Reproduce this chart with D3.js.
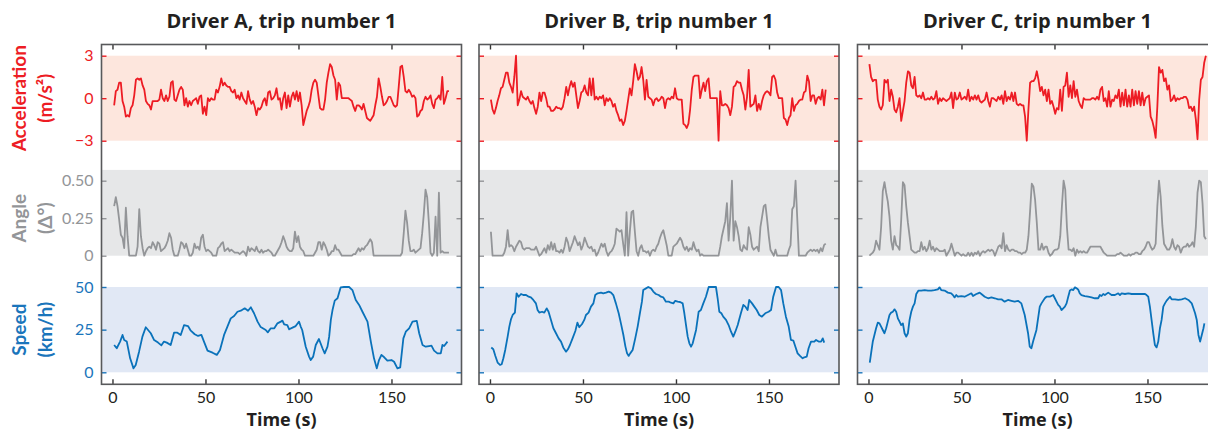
<!DOCTYPE html>
<html>
<head>
<meta charset="utf-8">
<script src="https://cdn.jsdelivr.net/npm/d3@7"></script>
<style>
  body { margin: 0; background: #fff; }
  svg { display: block; font-family: Lato, "Open Sans", sans-serif; }
</style>
</head>
<body>
<svg id="svg"></svg>
<script>
/**
 * CONSTANTS AND GLOBALS
 * */
const width = 1208,
  height = 432;

const drivers = ["A", "B", "C"];
const titles = ["Driver A, trip number 1", "Driver B, trip number 1", "Driver C, trip number 1"];
const timeTicks = [0, 50, 100, 150];

// acceleration and angle are sampled on a regular grid: t = start + i * step
const sampleStep = 0.9;
const sampleStart = [0.9, 0.5, 0.5];

/**
 * DATA
 * */
const accelA = [
  -0.5,0.5,0.6,1.1,1.1,-0.2,-0.6,-1.3,-1.2,-1.3,
  -0.7,-0.5,0.2,1.3,1.4,1.3,1.4,0.9,0.6,-0.2,
  -0.4,-0.5,-0.8,-0.2,-0.2,-0.2,-0.2,-0.1,0.6,0,
  -0.2,0.2,-0.2,0.1,1.1,1.2,-0.1,-0.2,0.2,0.6,
  0.8,0.6,-0.5,0,-0.6,-0.2,-0.5,-0.2,-0.1,0,
  -0.4,0.1,0.2,-1.1,-0.6,-1.2,0,-0.2,0,-0.1,
  -0.1,0.6,0.4,0.8,1.4,0.9,1.1,0.9,0.8,0.8,
  0.5,0.4,0.6,0,0.2,-0.1,0.4,0,-0.2,-0.4,
  0.5,-0.1,-0.4,-0.2,-0.6,-1.2,-0.7,-0.8,-0.6,-0.2,
  0,-0.5,0.4,0.5,-0.1,0,0.2,0.7,-0.1,0,
  -0.8,0,0.4,-0.7,0.2,-0.6,0.1,0.4,-0.1,0.5,
  -0.2,0.4,-0.5,-1.9,-1.4,-0.9,-0.6,-0.2,0.6,1.1,
  1.3,1.1,0.2,-0.7,-0.8,-0.8,-0.1,1.1,1.8,2.4,
  2.2,1.6,1.3,-0.1,1.1,0.9,0,0,0,0,
  0,-0.1,-0.2,-0.6,-0.9,-0.5,-0.5,-0.6,-0.8,-0.4,
  -0.9,-1.4,-1.5,-1.6,-1.4,-1.2,-0.5,0.1,1.4,0.8,
  0.1,-0.5,-0.4,-0.2,0.1,0.1,-0.2,-0.5,-0.6,-0.5,
  0.8,2.2,2.3,1.5,0.5,0.4,0.6,0.4,0.1,0.2,
  0,-1.3,-1.2,-0.9,-0.8,-0.2,0.1,-0.1,0,0.2,
  -0.4,-0.7,-0.1,0,0.2,-0.1,1.5,-0.4,0,0.5,
  0.5
];
const accelB = [
  -0.1,-0.8,-1.1,-0.7,-0.2,0.2,0.7,0.8,1.3,1.8,
  1.8,1.1,0.8,0.4,1.5,3.0,-0.5,-0.1,0.5,0.1,
  0,-0.1,0.1,-0.2,-0.4,-0.2,-0.7,-1.1,-0.6,0.4,
  -0.2,0.4,0.4,0,-0.6,-0.6,-0.9,-0.9,-0.8,-0.6,
  -0.7,-0.7,-0.8,-0.6,0,0.8,0.2,0.8,1.2,0.8,
  1.1,0.2,-0.7,-0.2,0.4,0.5,0.9,0.4,0.2,1.4,
  0.2,1.4,-0.1,0.1,-0.1,0.1,0,0.2,-0.5,0,
  -0.2,0,-0.2,-0.6,-0.4,-0.9,-1.2,-1.6,-1.5,-1.9,
  -1.6,-0.9,-0.1,0.7,0.2,1.2,2.4,1.9,1.3,1.5,
  2.2,1.3,-0.1,1.3,0.1,0,-0.1,-0.5,-0.1,0,
  -0.2,-0.1,0.1,0,-0.7,-0.1,0,-0.1,0.1,0,
  0.7,0,-0.1,-0.1,-0.1,-1.8,-1.9,-2.1,-1.8,-0.8,
  0.6,1.5,1.6,1.6,1.6,0,0.6,1.1,0.5,1.2,
  1.4,0,0,0,0,0,-3.0,0.5,-0.5,-0.5,
  -0.4,-0.5,-0.7,-1.2,-0.6,0.8,0.9,1.2,1.1,1.1,
  0.6,0.2,-0.8,0.1,2.0,-0.6,-0.5,-0.4,0.2,-0.9,
  -0.4,-0.8,-0.2,0.2,0.4,0.5,0.4,0.2,1.5,1.6,
  1.3,0.4,0,0,0,-1.4,-1.5,-1.9,-1.4,-1.2,
  0,-0.9,-0.5,-0.4,-0.2,-0.1,-0.1,0.4,0.5,1.6,
  1.2,-0.2,0.2,0.2,-0.4,0,0.1,-0.1,0.6,-0.5,
  0.6
];
const accelC = [
  2.4,1.5,1.2,1.3,1.3,-0.1,-0.6,-0.8,-0.5,1.3,
  1.1,1.3,-0.2,0.6,0.1,-0.8,-1.0,-0.6,0,-1.6,
  -0.9,-0.2,1.1,1.9,1.8,0.9,0.7,1.5,0.2,0.1,
  0.2,0,0.4,-0.1,-0.1,0,-0.1,0.1,-0.1,0,
  0.5,-0.4,0,-0.2,0,-0.1,-0.2,-0.1,0,0.4,
  -0.7,0.4,-0.1,0,0.4,-0.1,0,0.1,-0.1,0.6,
  -0.2,0.1,-0.1,0.2,-0.1,0.2,-0.2,-0.3,-0.2,-0.1,
  0.4,-0.2,-0.6,0,0,-0.1,-0.2,0.1,-0.1,0.2,
  -0.4,0.5,-0.2,0.1,-0.1,0.4,-0.2,0.4,-0.4,-0.5,
  -0.4,-0.5,-0.5,-1.3,-3.0,-0.8,1.1,1.2,1.2,1.4,
  1.9,1.3,0.5,0.8,0.2,0.6,-0.2,0.6,-0.4,-0.2,
  -0.6,-1.1,-0.7,-0.8,0.6,-0.9,0.8,0.9,1.8,0.1,
  0.9,0,1.2,0.1,0.6,-0.2,-0.5,-0.7,0,-0.1,
  -0.1,-0.1,-0.1,0,0,-0.1,0.1,-0.1,0.6,0.8,
  -0.2,0,-0.6,0.5,-0.6,-0.1,-0.2,0.2,0,0.6,
  -0.6,0.4,-0.5,0.6,-0.6,0.2,-0.6,0.6,-0.5,0.5,
  -0.4,0.5,-0.5,0.4,-0.5,0,0.1,0.2,-1.3,-1.6,
  -2.1,-2.8,-0.6,2.2,1.8,2.0,1.2,1.4,0.6,0.9,
  -0.2,-0.1,0.2,-0.2,0,-0.1,0,0,0.1,0.1,
  -0.1,-0.7,-0.6,-0.9,-0.6,-1.5,-2.9,-0.1,1.3,1.5,
  2.5,3.0
];

const angleA = [
  0.33,0.39,0.33,0.24,0.14,0.12,0.05,0.32,0.13,0,
  0,0,0,0,0.06,0.31,0.13,0.05,0,0.03,
  0.05,0.06,0.05,0.09,0.07,0.04,0.09,0.08,0.03,0.04,
  0.05,0.07,0.10,0.15,0.12,0.04,0,0,0,0.04,
  0.09,0.08,0.05,0.08,0.04,0,0,0.02,0.08,0.05,
  0.06,0.04,0.12,0.14,0.06,0.03,0.04,0.03,0.02,0,
  0,0,0.05,0.06,0.08,0.09,0.03,0.04,0.05,0.03,
  0.04,0.03,0.02,0.02,0.02,0.01,0.02,0.03,0.02,0,
  0.06,0.03,0.05,0.04,0.03,0.06,0.03,0.02,0.04,0.02,
  0.03,0.03,0.04,0.03,0.02,0,0,0.02,0.04,0.06,
  0.09,0.13,0.10,0.06,0.04,0.03,0.03,0.05,0.16,0.09,
  0.13,0.06,0.04,0.03,0,0,0,0,0,0,
  0.02,0.04,0.09,0.09,0.04,0.09,0.07,0.04,0,0.01,
  0.03,0.03,0.07,0.04,0.04,0.02,0,0,0,0,
  0,0,0,0.01,0.01,0.03,0.05,0.03,0.05,0.04,
  0.06,0.07,0.09,0.11,0.09,0,0,0,0,0,
  0,0,0,0,0,0,0,0,0,0,
  0,0,0.02,0.15,0.30,0.22,0.10,0.03,0.03,0.04,
  0.02,0.03,0.04,0.05,0.15,0.28,0.44,0.39,0.22,0.02,
  0,0.02,0.26,0,0.42,0.02,0.03,0.02,0.02,0.02,
  0.02
];
const angleB = [
  0.16,0,0,0,0,0,0,0,0.02,0.06,
  0.17,0.06,0.07,0.06,0.03,0.06,0.08,0.10,0.09,0.05,
  0.04,0.05,0.05,0.05,0.04,0.04,0.04,0.06,0.03,0,
  0.01,0.03,0.05,0.02,0.07,0.04,0.09,0.04,0.08,0.03,
  0.03,0.02,0.04,0.02,0.06,0.12,0.09,0.03,0.06,0.09,
  0.13,0.10,0.07,0.09,0.04,0.07,0.12,0.09,0.06,0.05,
  0.06,0.03,0.04,0,0.02,0.05,0.08,0.06,0.08,0.03,
  0,0.02,0.03,0.05,0.08,0.18,0.17,0.16,0.17,0.08,
  0,0.29,0,0.16,0.29,0.30,0.16,0.03,0,0.05,
  0.07,0.03,0.03,0.02,0.03,0,0.03,0.04,0.03,0.06,
  0.08,0.12,0.15,0.17,0.12,0.07,0,0,0,0.06,
  0.07,0.08,0.10,0.12,0.10,0.06,0.04,0.06,0.03,0.05,
  0.04,0.09,0.05,0.03,0.04,0,0.01,0,0,0,
  0,0,0,0,0,0,0,0.06,0.13,0.18,
  0.23,0.35,0.10,0.26,0.50,0.10,0.23,0.19,0.13,0.04,
  0.03,0.07,0.05,0.04,0.19,0.14,0.06,0.04,0.05,0.06,
  0.03,0.19,0.26,0.33,0.34,0.24,0.13,0.04,0.02,0,
  0.04,0,0,0,0,0,0,0,0.04,0.07,
  0.31,0.33,0.50,0.25,0,0,0,0,0,0.02,
  0.03,0.04,0.03,0.04,0.03,0.04,0.02,0.05,0.03,0.07,
  0.08
];
const angleC = [
  0,0.01,0.02,0.04,0.10,0.07,0.04,0.19,0.43,0.49,
  0.42,0.36,0.26,0.10,0.04,0.13,0.07,0.06,0.04,0.24,
  0.49,0.47,0.33,0.22,0.13,0.04,0.03,0.02,0.02,0.03,
  0.03,0.09,0.04,0.06,0.03,0.05,0.10,0.04,0.06,0.03,
  0.05,0.04,0.03,0.03,0.03,0.04,0,0.02,0.04,0.08,
  0.04,0,0.02,0.02,0.01,0,0.01,0,0,0.02,
  0,0.02,0,0.02,0.01,0.03,0,0.02,0.03,0.02,
  0.03,0.04,0.03,0.04,0.03,0,0.03,0.06,0.07,0.05,
  0.15,0.03,0.07,0.04,0.03,0.04,0.04,0.03,0.03,0.02,
  0.02,0.01,0.02,0.02,0.04,0.13,0.30,0.48,0.46,0.37,
  0.22,0.04,0.04,0.08,0.04,0.06,0.06,0.02,0,0.01,
  0.03,0.04,0.04,0.05,0.13,0.33,0.50,0.44,0.19,0.04,
  0.04,0.03,0.05,0,0.04,0.02,0.03,0.02,0.03,0.02,
  0.02,0.04,0.06,0.06,0.06,0.06,0.06,0.06,0.06,0.04,
  0.02,0.01,0,0,0,0,0,0,0.01,0.01,
  0.02,0.01,0,0,0,0.01,0,0.01,0.01,0.02,
  0.02,0.01,0.01,0.03,0.04,0.06,0.09,0.09,0.06,0.04,
  0.05,0.08,0.33,0.50,0.39,0.20,0.08,0.06,0.04,0.04,
  0.06,0.11,0.06,0.04,0.07,0.06,0.02,0.05,0.06,0.06,
  0.08,0.06,0.07,0.09,0.06,0.19,0.42,0.50,0.49,0.35,
  0.13,0.11
];

// speed is smooth, so it is kept as (time, value) pairs read at the turning points
const speedA_t = [0.9,2.3,4.1,5.4,6.3,7.7,9.5,11.3,12.5,14.3,16.1,17.9,20.6,22.4,24.5,26.3,27.7,29.2,31.3,33.1,
  34.9,36.7,38.5,40.6,42.1,44.2,46,47.8,49.2,51.1,53.8,56.1,57.8,60,61.8,63.6,65.4,67.2,69,71.1,
  72.9,74.4,76.1,78,79.7,82.4,83.5,85.1,87,88.7,90.5,91.4,92.3,94,95,96.8,98.5,100.3,101.2,102,
  103.9,105.7,106.6,107.9,109.3,111,112.9,114.1,115.6,116.5,117.4,118.3,119.5,121,122.7,124.5,127.2,129,130.8,132.6,
  134.4,136.2,137.1,138.9,140.6,142.1,143.3,144.6,146.1,147.8,150,151.4,153.2,154.7,156.4,157.7,159.5,161.3,163.6,164.9,
  166.7,168.4,170.2,171.5,172.9,174.7,176.5,177.4,178.3,180.1];
const speedA = [16,14.1,18,21.9,18.9,18,8.2,2.3,4.3,12.1,20.9,26.4,22.9,18.9,17.4,15.8,18,17.4,16,23.2,
  23.2,21.9,27.7,27.1,24.4,22.3,21.3,21.9,18,12.7,11.5,10.2,13.1,21.9,26.8,31.6,33,35.5,36.1,37.5,
  36.1,38.1,34.6,29.7,26.5,24.8,23.4,25.8,25.8,28.7,29.7,30.3,28.1,27.7,25.2,26.2,27.1,29.7,26.8,24.8,
  15,9.2,7.2,9.2,16,19.5,14.1,11.1,15,20.9,30.7,36.5,42,43.4,49.8,50,50,48.2,42.4,39.5,
  35.5,31.6,29.7,18,8.2,2.3,7.2,10.2,8.8,6.8,7.2,6.2,2.3,2.9,19.9,23.8,25.8,29.7,30.1,22.9,
  16,15,15.4,15.6,12.7,11.1,11.1,16,15.4,18];

const speedB_t = [0.7,1.8,2.9,4.1,5.4,6.3,7.2,8.2,9.5,10.4,11.3,12.2,13.4,14.3,15.4,16.7,17.9,19.4,20.8,22,
  23.3,24.7,25.6,26.5,28,29.2,30.5,31.5,32.8,34.1,35.5,36.9,38.2,39.4,40.9,41.9,43,44.4,45.9,47,
  48,49.5,50.7,51.6,53,54.3,55.6,56.6,57.9,59.7,60.9,62.4,63.8,65.1,66.3,67.7,69.2,70.4,71.7,72.8,
  73.7,74.6,75.4,76.7,78.1,79.4,80.6,81.7,82.4,83.9,85.1,86.6,87.8,89.2,90.7,91.9,93.2,94.6,96.1,97.3,
  98.6,99.6,100.9,102.2,103.6,104.5,105.4,106.3,107.2,108.1,109,110.8,112.2,113.4,114.7,116.1,117.6,119.7,121.5,122.4,
  123.3,124.4,125.4,126.9,128.3,129.6,130.8,131.9,133.2,134.9,136.2,137.3,138.5,139.4,140.9,142.1,143.4,144.8,146.2,148,
  149.8,151.1,152.3,153.8,155.2,156.5,157.7,159.1,160.6,161.8,163.1,164.2,165.4,166.7,168.1,169,170.3,171.3,172.6,174.4,
  175.3,176.7,178,178.9,179.7];
const speedB = [14.5,13.5,9.6,5.7,4.3,4.7,8.2,13.1,20.9,26.8,31.1,33.6,35,46.3,44.3,45.9,45.3,45.3,44.3,43.9,
  42.4,40.4,36.5,35,35.5,35,37.5,35.5,30.7,25.8,22.9,19.9,18,14.6,12.1,13.5,16,19.9,24.2,29.1,
  26.4,28.3,30.7,33.6,35,38.5,40.4,45.3,46.3,46.7,46.3,46.7,47.3,46.7,45.3,40.4,34.6,28.7,22,15.2,
  11.1,9.6,11.1,13.1,19.9,26.8,34.6,41.4,48.2,49.2,50,49.2,47.3,45.9,45.3,44.3,43.9,41.4,41.4,40.8,
  40.4,41.9,41.4,41.2,40.4,34.6,27.7,20.9,17,15,17,24.8,35.5,36.5,40.4,44.3,50,50,50,43.4,
  35.5,34.6,32.6,30.7,27.7,23.8,20.9,23.8,27.7,34.6,39.5,38.5,36.5,42.4,40.4,38.5,36.5,33.6,32.6,34.6,
  35.5,36.5,44.3,50,50,48.2,40.4,32.6,26.8,19,18.6,15,11.1,9.6,8.2,8.8,9.2,14.1,18,18,
  19,18,18,19.9,17.4];

const speedC_t = [0.7,1.4,2.3,3.2,4.1,5,5.9,6.8,7.7,8.6,9.5,10.4,11.3,12.2,13.1,14,14.9,15.8,16.7,17.6,
  18.5,19.4,20.3,21.2,22.1,23,23.9,24.8,25.7,26.9,28.4,30.2,32,33.8,35.5,37.3,38.2,39.1,40.9,42.7,
  44.5,45.4,46.3,47.2,48.1,49.9,51.7,53.5,55.3,56.2,57.1,58,58.9,59.8,60.7,62.5,64.3,66.1,67.9,69.7,
  71.5,73.2,75,76.8,78.6,80.4,82.2,84,85.8,86.7,87.6,88.5,90.3,92.1,93,94.8,95.7,97.5,99.3,100.2,
  101.1,102,102.9,103.8,104.7,105.6,106.5,107.4,108.3,109.2,110.1,111,111.9,112.7,113.6,114.5,116.3,118.1,119.9,121.7,
  123.5,124.4,125.3,126.2,127.1,128.9,130.7,132.5,134.3,135.2,136.1,137.9,139.7,141.5,143.3,145.1,146.9,148.7,149.5,150.4,
  151.3,152.2,153.1,154,154.9,155.8,156.7,157.6,158.5,159.4,160.3,162.1,163,164.8,166.6,168.4,170.2,172,173.8,174.7,
  175.6,176.5,177.4,178.3,179.2,180.1,180.6];
const speedC = [5.7,11.1,17.9,21.9,25.8,29.1,28.7,26.8,24.8,22.9,25.8,29.7,33.6,35,35.5,36.9,35.5,31.6,29.7,27.7,
  28.7,22.9,20.9,22.9,30.7,35.5,38.5,40.4,45.9,47.9,47.9,48.2,47.9,47.9,48.2,48.6,49.8,48.2,47.9,46.7,
  46.3,45.3,43.9,45.3,44.3,44.7,44.3,45.3,46.3,44.7,45.3,45.9,46.3,46.7,45.9,44.3,43.4,43.9,43.4,42.8,
  42.8,41.4,42.4,41.9,41.4,41.9,40.4,33.6,22.9,15,14.1,18,24.8,38.5,40.4,43.4,44.3,44.3,45.3,43.4,
  41.4,39.5,38.5,36.5,37.5,38.5,40.4,44.3,47.9,48.6,48.2,49.8,49.2,48.6,46.3,45.3,44.7,44.3,43.9,43.4,
  43.4,45.3,44.7,45.9,45.3,46.7,45.3,45.3,46.3,45.3,46.3,45.9,46.3,45.9,45.9,45.9,45.9,45.9,45.3,44.3,
  38.5,30.7,22.9,16,14.6,18,25.8,30.7,38.5,40.4,42,44.3,42.8,42.8,42.4,42.8,43.4,42.4,40.4,37.5,
  34.6,30.7,21.9,18,21.9,25.8,28.7];

const accelTicks = [-3, 0, 3], accelTickLabels = ["\u22123", "0", "3"];
const angleTicks = [0, 0.25, 0.5], angleTickLabels = ["0", "0.25", "0.50"];
const speedTicks = [0, 25, 50], speedTickLabels = ["0", "25", "50"];

/**
 * LAYOUT
 * */
const panelLeft = [101.5, 479, 857.5],
  panelWidth = 360,
  frameTop = 44.5,
  frameBottom = 384.3;

const rows = [
  { key: "accel", domain: [-3, 3], range: [140.7, 55.7], band: [-3, 3],
    ticks: accelTicks, labels: accelTickLabels,
    line: "#ed1c24", fill: "#fde6dd", text: "#ed1c24",
    title: ["Acceleration", "(m/s\u00b2)"], series: [accelA, accelB, accelC] },
  { key: "angle", domain: [0, 0.5], range: [255.7, 180.7], band: [0, 0.572],
    ticks: angleTicks, labels: angleTickLabels,
    line: "#939598", fill: "#e6e7e8", text: "#939598",
    title: ["Angle", "(\u0394\u00b0)"], series: [angleA, angleB, angleC] },
  { key: "speed", domain: [0, 50], range: [372.3, 287], band: [0, 50],
    ticks: speedTicks, labels: speedTickLabels,
    line: "#0a72ba", fill: "#e1e8f5", text: "#1a75bb",
    title: ["Speed", "(km/h)"], series: [null, null, null] }
];
const speedTimes = [speedA_t, speedB_t, speedC_t];
const speedValues = [speedA, speedB, speedC];

const svg = d3.select("#svg").attr("width", width).attr("height", height);

drivers.forEach((drv, p) => {
  const x0 = panelLeft[p];
  const xScale = d3.scaleLinear()
    .domain([-5.9, -5.9 + panelWidth / 1.86])
    .range([x0, x0 + panelWidth]);

  const g = svg.append("g").attr("class", "panel-" + drv);

  rows.forEach(row => {
    const yScale = d3.scaleLinear().domain(row.domain).range(row.range);

    // background band
    g.append("rect")
      .attr("x", x0)
      .attr("width", panelWidth)
      .attr("y", yScale(row.band[1]))
      .attr("height", yScale(row.band[0]) - yScale(row.band[1]))
      .attr("fill", row.fill);

    let pts;
    if (row.key === "speed") {
      pts = speedTimes[p].map((t, i) => [t, speedValues[p][i]]);
    } else {
      pts = row.series[p].map((v, i) => [sampleStart[p] + i * sampleStep, v]);
    }

    const line = d3.line()
      .x(d => xScale(d[0]))
      .y(d => yScale(d[1]));

    g.append("path")
      .datum(pts)
      .attr("d", line)
      .attr("fill", "none")
      .attr("stroke", row.line)
      .attr("stroke-width", 1.8)
      .attr("stroke-linejoin", "round");

    // left ticks (labels only on first panel)
    const left = g.append("g")
      .attr("transform", `translate(${x0},0)`)
      .call(d3.axisLeft(yScale).tickValues(row.ticks).tickSize(-5).tickPadding(8)
        .tickFormat((d, i) => p === 0 ? row.labels[i] : ""));
    left.select(".domain").remove();
    left.selectAll("line").attr("stroke", row.text).attr("stroke-width", 1.4);
    left.selectAll("text")
      .attr("fill", row.text)
      .style("font-size", "16px")
      .style("font-family", "Lato, sans-serif");

    const right = g.append("g")
      .attr("transform", `translate(${x0 + panelWidth},0)`)
      .call(d3.axisRight(yScale).tickValues(row.ticks).tickSize(-5).tickFormat(""));
    right.select(".domain").remove();
    right.selectAll("line").attr("stroke", row.text).attr("stroke-width", 1.4);

    if (p === 0) {
      const cy = (row.range[0] + row.range[1]) / 2;
      const lab = svg.append("text")
        .attr("transform", `translate(0,${cy}) rotate(-90)`)
        .attr("text-anchor", "middle")
        .attr("fill", row.text)
        .style("font-size", "19px")
        .style("font-weight", "bold");
      lab.append("tspan").attr("x", 0).attr("y", 26).text(row.title[0]);
      lab.append("tspan").attr("x", 0).attr("y", 52).text(row.title[1]);
    }
  });

  // time axes
  const bottom = g.append("g")
    .attr("transform", `translate(0,${frameBottom})`)
    .call(d3.axisBottom(xScale).tickValues(timeTicks).tickSize(-5).tickPadding(7));
  bottom.select(".domain").remove();
  bottom.selectAll("line").attr("stroke", "#333").attr("stroke-width", 1.4);
  bottom.selectAll("text")
    .attr("fill", "#231f20")
    .style("font-size", "16px")
    .style("font-family", "Lato, sans-serif");

  const top = g.append("g")
    .attr("transform", `translate(0,${frameTop})`)
    .call(d3.axisTop(xScale).tickValues(timeTicks).tickSize(-5).tickFormat(""));
  top.select(".domain").remove();
  top.selectAll("line").attr("stroke", "#333").attr("stroke-width", 1.4);

  // frame
  g.append("rect")
    .attr("x", x0)
    .attr("y", frameTop)
    .attr("width", panelWidth)
    .attr("height", frameBottom - frameTop)
    .attr("fill", "none")
    .attr("stroke", "#58595b")
    .attr("stroke-width", 1.6);

  g.append("text")
    .attr("x", x0 + panelWidth / 2)
    .attr("y", 28)
    .attr("text-anchor", "middle")
    .attr("fill", "#231f20")
    .style("font-family", "'Open Sans', sans-serif")
    .style("font-size", "20px")
    .style("font-weight", "bold")
    .text(titles[p]);

  g.append("text")
    .attr("x", x0 + panelWidth / 2)
    .attr("y", 426)
    .attr("text-anchor", "middle")
    .attr("fill", "#231f20")
    .style("font-family", "'Open Sans', sans-serif")
    .style("font-size", "18px")
    .style("font-weight", "bold")
    .text("Time (s)");
});
</script>
</body>
</html>
